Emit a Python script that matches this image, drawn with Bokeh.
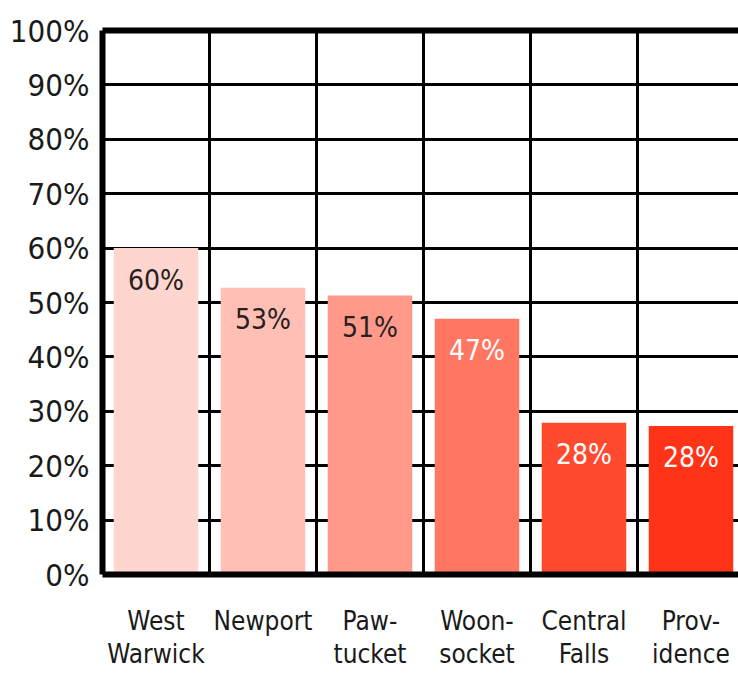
from bokeh.plotting import figure
from bokeh.models import Range1d, FixedTicker, LinearAxis, ColumnDataSource
from bokeh.core.properties import value
from bokeh.embed import file_html
from bokeh.resources import INLINE

cities = ["West\nWarwick", "Newport", "Paw-\ntucket", "Woon-\nsocket", "Central\nFalls", "Prov-\nidence"]
shares = [60.0, 52.7, 51.3, 47.0, 27.9, 27.3]
share_labels = ["60%", "53%", "51%", "47%", "28%", "28%"]
bar_colors = ["#FFD6CF", "#FFBFB5", "#FF9A8B", "#FF7662", "#FF4A30", "#FF3318"]
label_colors = ["#2a2020", "#2a2020", "#2a2020", "#FFFFFF", "#FFFFFF", "#FFFFFF"]
y_ticks = [0, 10, 20, 30, 40, 50, 60, 70, 80, 90, 100]

FONT = "DejaVu Sans Condensed, Liberation Sans Narrow, Roboto"
xs = list(range(len(cities)))

src = ColumnDataSource(dict(x=xs, top=shares, lab=share_labels, color=bar_colors, lcol=label_colors))

p = figure(width=738, height=673, x_range=Range1d(-0.5, 5.444), y_range=Range1d(0, 100),
           output_backend="svg", toolbar_location=None,
           min_border_left=102, min_border_right=0, min_border_top=30, min_border_bottom=99)
p.outline_line_color = None
p.background_fill_color = "white"
p.border_fill_color = "white"

p.vbar(x="x", top="top", width=0.79, color="color", source=src, line_color=None)
p.text(x="x", y="top", text="lab", text_color="lcol", source=src,
       text_font=value(FONT), text_font_size="28px", text_align="center",
       text_baseline="middle", y_offset=32)

# grids
p.ygrid.ticker = FixedTicker(ticks=y_ticks)
p.ygrid.grid_line_color = "black"
p.ygrid.grid_line_width = 3
p.xgrid.ticker = FixedTicker(ticks=[i + 0.5 for i in xs])
p.xgrid.grid_line_color = "black"
p.xgrid.grid_line_width = 3

# y axis
ya = p.yaxis[0]
ya.ticker = FixedTicker(ticks=y_ticks)
ya.major_label_overrides = {t: f"{t}%" for t in y_ticks}
ya.axis_line_width = 6
ya.axis_line_color = "black"
ya.major_tick_line_color = None
ya.minor_tick_line_color = None
ya.major_label_text_font = FONT
ya.major_label_text_font_size = "31px"
ya.major_label_text_color = "#1a1a1a"
ya.major_label_standoff = 7

# x axis
xa = p.xaxis[0]
xa.ticker = FixedTicker(ticks=xs)
xa.major_label_overrides = {i: c for i, c in zip(xs, cities)}
xa.axis_line_width = 6
xa.axis_line_color = "black"
xa.major_tick_line_color = None
xa.minor_tick_line_color = None
xa.major_label_text_font = FONT
xa.major_label_text_font_size = "26px"
xa.major_label_text_color = "#1a1a1a"
xa.major_label_text_line_height = 1.1
xa.major_label_standoff = 25

# top border
top = LinearAxis(axis_line_width=6, axis_line_color="black", major_tick_line_color=None,
                 minor_tick_line_color=None, ticker=FixedTicker(ticks=[]))
p.add_layout(top, "above")

open("out.html", "w").write(file_html(p, INLINE))
